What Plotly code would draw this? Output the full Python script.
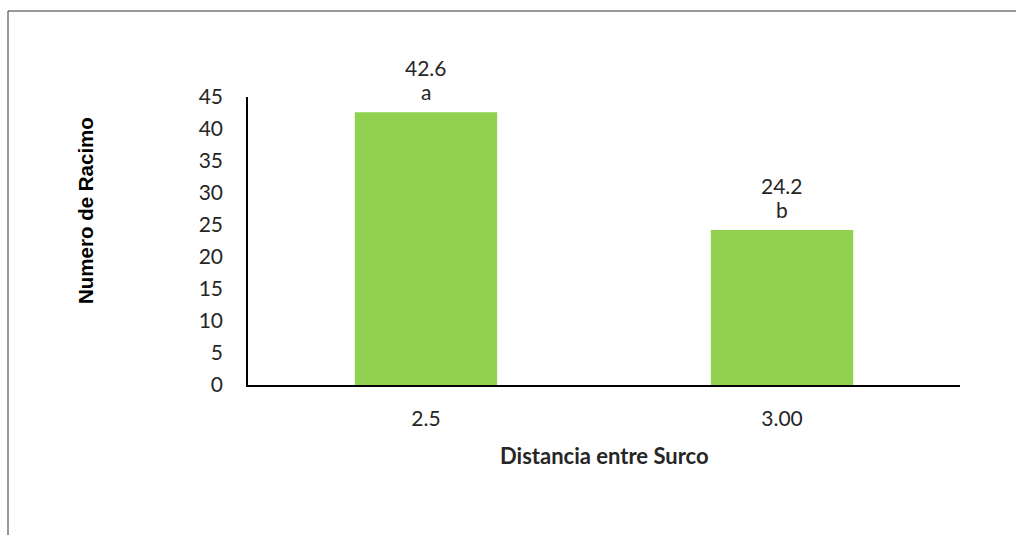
import plotly.graph_objects as go

categories = ["2.5", "3.00"]
values = [42.6, 24.2]
letters = ["a", "b"]
value_labels = ["42.6", "24.2"]

FONT = "Lato"
TXT = "#262626"

fig = go.Figure(go.Bar(
    x=categories, y=values,
    marker=dict(color="#92D050", line=dict(width=0)),
))

W, H = 1016, 535
L, R, T, B = 248, 56, 97, 150
pw, ph = W - L - R, H - T - B

annotations = []
for i, (v, lab, let) in enumerate(zip(values, value_labels, letters)):
    annotations.append(dict(x=i, y=v, xref="x", yref="y", text=let, showarrow=False,
                            yanchor="bottom", xanchor="center", yshift=6,
                            font=dict(family=FONT, size=21, color=TXT)))
    annotations.append(dict(x=i, y=v, xref="x", yref="y", text=lab, showarrow=False,
                            yanchor="bottom", xanchor="center", yshift=30,
                            font=dict(family=FONT, size=21, color=TXT)))

annotations += [
    dict(text="<b>Distancia entre Surco</b>", xref="paper", yref="paper",
         x=0.5, y=(385 - 455) / ph, xanchor="center", yanchor="middle",
         showarrow=False, font=dict(family=FONT, size=22, color=TXT)),
    dict(text="<b>Numero de Racimo</b>", xref="paper", yref="paper",
         x=(85 - L) / pw, y=(385 - 211) / ph, xanchor="center", yanchor="middle",
         textangle=-90, showarrow=False,
         font=dict(family="Liberation Sans", size=20.5, color="#000000")),
]

fig.update_layout(
    width=W, height=H,
    margin=dict(l=L, r=R, t=T, b=B),
    paper_bgcolor="white", plot_bgcolor="white",
    bargap=0.6, showlegend=False,
    font=dict(family=FONT, size=21, color=TXT),
    xaxis=dict(type="category", categoryorder="array", categoryarray=categories,
               range=[-0.5, len(categories) - 0.5],
               showline=True, linecolor="black", linewidth=1.5,
               showgrid=False, ticks="", ticklabelstandoff=14,
               tickfont=dict(family=FONT, size=21, color=TXT)),
    yaxis=dict(range=[0, 45], dtick=5, showline=True, linecolor="black", linewidth=1.5,
               showgrid=False, zeroline=False, ticks="", ticklabelstandoff=19,
               tickfont=dict(family=FONT, size=21, color=TXT)),
    annotations=annotations,
    shapes=[dict(type="rect", xref="paper", yref="paper",
                 x0=(8 - L) / pw, x1=1.3, y0=-0.7, y1=(385 - 11) / ph,
                 line=dict(color="#333333", width=1), fillcolor="rgba(0,0,0,0)", layer="below")],
)

fig.write_html("out.html")
